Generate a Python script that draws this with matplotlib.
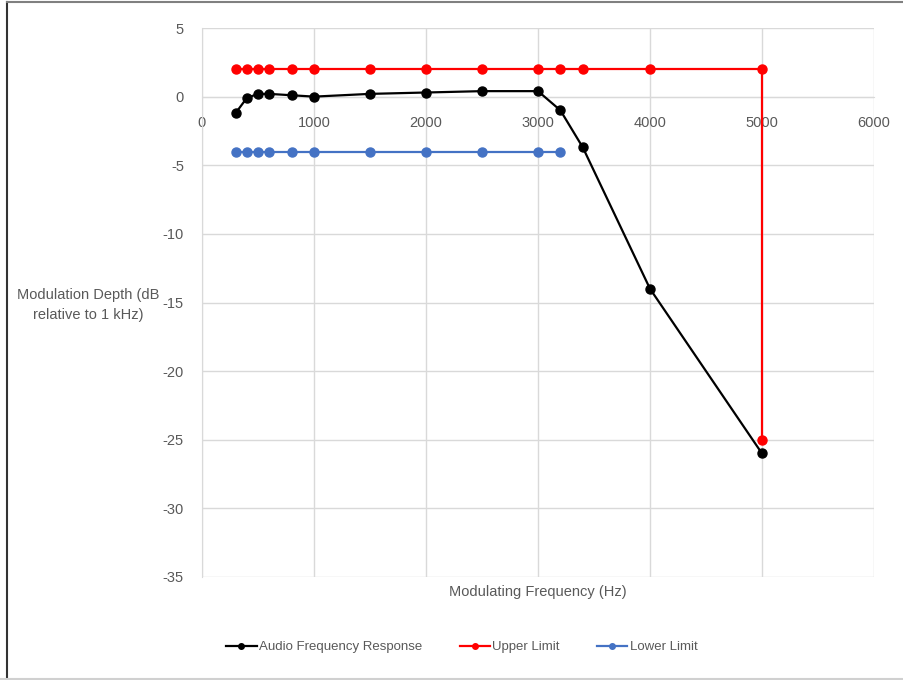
import matplotlib.pyplot as plt
from matplotlib.lines import Line2D

plt.rcParams['font.family'] = ['Liberation Sans', 'DejaVu Sans']
plt.rcParams['axes.unicode_minus'] = False

# audio frequency response
resp_freq = [300, 400, 500, 600, 800, 1000, 1500, 2000, 2500, 3000, 3200, 3400, 4000, 5000]
resp_db = [-1.2, -0.1, 0.2, 0.2, 0.1, 0.0, 0.2, 0.3, 0.4, 0.4, -1.0, -3.7, -14.0, -26.0]

# limits
upper_freq = [300, 400, 500, 600, 800, 1000, 1500, 2000, 2500, 3000, 3200, 3400, 4000, 5000, 5000]
upper_db = [2, 2, 2, 2, 2, 2, 2, 2, 2, 2, 2, 2, 2, 2, -25]
lower_freq = [300, 400, 500, 600, 800, 1000, 1500, 2000, 2500, 3000, 3200]
lower_db = [-4, -4, -4, -4, -4, -4, -4, -4, -4, -4, -4]

x_ticks = [0, 1000, 2000, 3000, 4000, 5000, 6000]
y_ticks = [5, 0, -5, -10, -15, -20, -25, -30, -35]

tick_col = '#595959'
grid_col = '#d9d9d9'


def main():
    fig = plt.figure(figsize=(9.04, 6.80), dpi=100)
    ax = fig.add_axes([202 / 904, 1 - 577 / 680, 672 / 904, 549 / 680])

    ax.plot(resp_freq, resp_db, '-o', color='black', lw=1.6, ms=6.5, zorder=3)
    ax.plot(upper_freq, upper_db, '-o', color='#ff0000', lw=1.6, ms=6.5, zorder=3)
    ax.plot(lower_freq, lower_db, '-o', color='#4472c4', lw=1.6, ms=6.5, zorder=3)

    ax.set_xlim(0, 6000)
    ax.set_ylim(-35, 5)
    ax.set_xticks(x_ticks)
    ax.set_yticks(y_ticks)
    ax.grid(True, color=grid_col, lw=1)
    ax.set_axisbelow(True)

    for s in ['top', 'right']:
        ax.spines[s].set_visible(False)
    ax.spines['left'].set_color(grid_col)
    ax.spines['bottom'].set_color(grid_col)
    ax.spines['bottom'].set_position(('data', 0))
    ax.tick_params(axis='x', length=0, pad=14, labelsize=10.5, labelcolor=tick_col)
    ax.tick_params(axis='y', length=0, pad=13, labelsize=10.5, labelcolor=tick_col)

    fig.text(88 / 904, 1 - 305 / 680, 'Modulation Depth (dB\nrelative to 1 kHz)',
             ha='center', va='center', fontsize=10.5, color=tick_col, linespacing=1.5)
    fig.text(538 / 904, 1 - 592 / 680, 'Modulating Frequency (Hz)',
             ha='center', va='center', fontsize=10.5, color=tick_col)

    handles = [
        Line2D([], [], color='black', lw=1.6, marker='o', ms=4),
        Line2D([], [], color='#ff0000', lw=1.6, marker='o', ms=4),
        Line2D([], [], color='#4472c4', lw=1.6, marker='o', ms=4),
    ]
    labels = ['Audio Frequency Response', 'Upper Limit', 'Lower Limit']
    leg = fig.legend(handles, labels, loc='center', bbox_to_anchor=(462 / 904, 1 - 647 / 680),
                     ncol=3, frameon=False, fontsize=9.5, handlelength=2.3,
                     handletextpad=0.2, columnspacing=2.8)
    for t in leg.get_texts():
        t.set_color(tick_col)

    # chart border
    fig.add_artist(Line2D([7 / 904, 7 / 904], [0, 1 - 2 / 680], color='#333333', lw=1.5))
    fig.add_artist(Line2D([7 / 904, 1], [1 - 2 / 680, 1 - 2 / 680], color='#808080', lw=1.5))
    fig.add_artist(Line2D([0, 1], [1 / 680, 1 / 680], color='#d0d0d0', lw=1.5))

    fig.savefig('out.png', dpi=100)


if __name__ == "__main__":
    main()
